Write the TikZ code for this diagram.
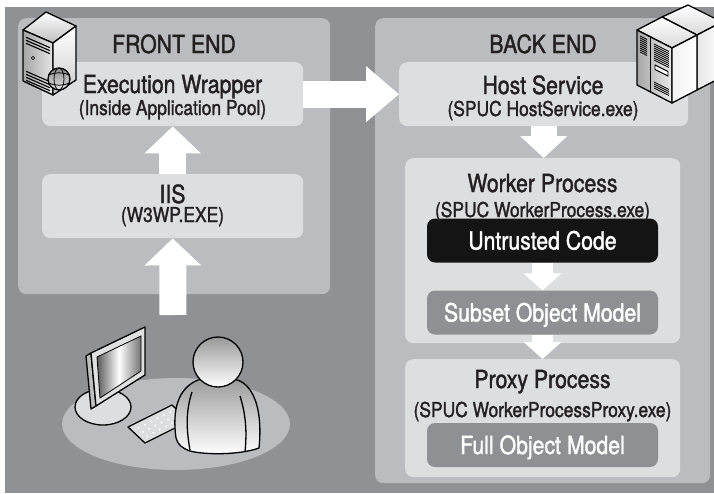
\documentclass[tikz,border=0pt]{standalone}
\usepackage{fontspec}
\setmainfont[FakeStretch=0.85, FakeBold=1.4]{TeX Gyre Heros}
\usetikzlibrary{arrows.meta, shapes, positioning}

\definecolor{bggray}{HTML}{909195}
\definecolor{panelgray}{HTML}{BBBCBF}
\definecolor{boxgray}{HTML}{DDDEDF}
\definecolor{modelgray}{HTML}{8F9093}
\definecolor{inkblack}{HTML}{231F20}

\begin{document}
\begin{tikzpicture}[x=1pt, y=-1pt,
    % Define the style of the two large panels
    panel/.style={fill=panelgray, rounded corners=8pt, anchor=north west, inner sep=0pt},
    % Define the style of the light process boxes
    procbox/.style={fill=boxgray, rounded corners=8pt, anchor=north west, inner sep=0pt},
    % Define the style of the small object model boxes
    modelbox/.style={fill=modelgray, text=white, rounded corners=8pt, minimum width=231pt,
      minimum height=44pt, inner sep=0pt, text height=18pt, text depth=0pt,
      font=\fontsize{25}{25}\selectfont},
    % Define the style of the box titles
    title/.style={anchor=base, text=inkblack, inner sep=0pt, font=\fontsize{25}{25}\selectfont},
    % Define the style of the executable names
    subtitle/.style={anchor=base, text=inkblack, inner sep=0pt, font=\fontsize{20.5}{20.5}\selectfont},
    % Define the style of the white block arrows
    bigarrow/.style={draw=white, line width=27pt, -{Triangle[width=55pt, length=27pt]}},
    sidearrow/.style={draw=white, line width=27pt, -{Triangle[width=54pt, length=33pt]}},
    midarrow/.style={draw=white, line width=26pt, -{Triangle[width=46pt, length=22pt]}},
    smallarrow/.style={draw=white, line width=21pt, -{Triangle[width=37pt, length=17pt]}},
    % Define the style of the icon outlines
    icon/.style={draw=black, line width=1.3pt, line join=round}
  ]
  \useasboundingbox (0,0) rectangle (714,493);
  \fill[bggray] (5,7) rectangle (714,493);

  % Panels
  \node[panel, minimum width=312pt, minimum height=276pt] (front) at (18,18) {};
  \node[panel, minimum width=335pt, minimum height=465pt] (back) at (375,18) {};

  % Process boxes
  \node[procbox, minimum width=261pt, minimum height=64pt] (ew) at (42,62) {};
  \node[procbox, minimum width=261pt, minimum height=64pt] (iis) at (42,174) {};
  \node[procbox, minimum width=289pt, minimum height=64pt] (host) at (399,62) {};
  \node[procbox, minimum width=275pt, minimum height=185pt] (worker) at (405,158) {};
  \node[procbox, minimum width=275pt, minimum height=118pt] (proxy) at (405,359) {};

  % Object model boxes
  \node[modelbox, fill=black!92] (untrusted) at (542.5,240.5) {Untrusted Code};
  \node[modelbox] (subset) at (542.5,312.5) {Subset Object Model};
  \node[modelbox] (full) at (542.5,445) {Full Object Model};

  % Labels
  \node[title] (frontlabel) at (174,53) {FRONT END};
  \node[title] (backlabel) at (543,53) {BACK END};
  \node[title] (ewtitle) at (172.5,93) {Execution Wrapper};
  \node[subtitle] (ewsub) at (172.5,115) {(Inside Application Pool)};
  \node[title] (iistitle) at (172.5,203) {IIS};
  \node[subtitle] (iissub) at (172.5,222) {(W3WP.EXE)};
  \node[title] (hosttitle) at (543,94) {Host Service};
  \node[subtitle] (hostsub) at (543,116) {(SPUC HostService.exe)};
  \node[title] (workertitle) at (542.5,192) {Worker Process};
  \node[subtitle] (workersub) at (542.5,217) {(SPUC WorkerProcess.exe)};
  \node[title] (proxytitle) at (542.5,388) {Proxy Process};
  \node[subtitle] (proxysub) at (542.5,417) {(SPUC WorkerProcessProxy.exe)};

  % Web server tower
  \draw[icon, top color=white, bottom color=black!25] (23,30) -- (46,12) -- (76,26) -- (53,43) -- cycle;
  \draw[icon, left color=black!35, right color=black!10] (23,30) -- (53,43) -- (53,95) -- (23,81) -- cycle;
  \draw[icon, top color=white, bottom color=black!20] (53,43) -- (76,26) -- (76,80) -- (53,95) -- cycle;
  \foreach \k in {6,9,12,40,43,46,49} {
    \draw[line width=1.1pt] (26,{31.3+\k}) -- (50,{41.7+\k});
  }
  \draw[line width=0.8pt, fill=white] (33,58) circle (1.6);
  % Globe
  \draw[icon, top color=black!45, bottom color=black!10] (59,79) circle (11);
  \draw[line width=0.8pt] (59,79) ellipse [x radius=5, y radius=11];
  \draw[line width=0.8pt] (48.5,75) .. controls (55,72) and (63,72) .. (69.5,75);
  \draw[line width=0.8pt] (48.5,83) .. controls (55,86) and (63,86) .. (69.5,83);

  % Back end server pair
  \draw[icon, top color=white, bottom color=black!15] (662,17) -- (688,5) -- (722,22) -- (697,35) -- cycle;
  \draw[icon, left color=black!10, right color=white] (697,35) -- (722,22) -- (722,77) -- (697,90) -- cycle;
  \draw[icon, top color=white, bottom color=black!15] (637,30) -- (662,17) -- (697,35) -- (672,48) -- cycle;
  \draw[icon, left color=black!35, right color=black!8] (637,30) -- (672,48) -- (672,103) -- (637,85) -- cycle;
  \draw[icon, left color=black!5, right color=white] (672,48) -- (697,35) -- (697,90) -- (672,103) -- cycle;
  \draw[line width=1pt] (650,37) -- (650,92);
  \foreach \k in {0,2,...,16} {
    \draw[line width=0.7pt] (640,{36+\k}) -- (647,{39.5+\k});
    \draw[line width=0.7pt] (654,{44+\k}) -- (669,{51.5+\k});
  }
  \draw[line width=0.9pt, fill=white] (655,65) -- (668,71.5) -- (668,76) -- (655,69.5) -- cycle;
  \foreach \k in {0,2,...,6} {
    \draw[line width=0.7pt] (654,{82+\k}) -- (669,{89.5+\k});
  }

  % Desk with monitor and keyboard
  \fill[panelgray] (176,424) ellipse [x radius=114, y radius=46];
  \draw[icon, fill=boxgray] (103,407) ellipse [x radius=28, y radius=18];
  \draw[icon, fill=black!25] (86,356) -- (91,353) -- (96,406) -- (91,409) -- cycle;
  \draw[icon, fill=black!12] (91,353) -- (145,327) -- (145,375) -- (96,406) -- cycle;
  \shade[left color=black!65, right color=black!55, middle color=white, draw=black, line width=0.8pt]
    (97,357) -- (141,336) -- (141,371) -- (100,398) -- cycle;
  \draw[icon, fill=boxgray] (128,427) -- (172,405) -- (189,421) -- (145,443) -- cycle;
  \foreach \i in {1,...,6} {
    \foreach \j in {1,...,3} {
      \fill[white] ({128+\i*44/7+\j*17/4},{427-\i*22/7+\j*16/4}) circle (1.1);
    }
  }

  % User
  \draw[icon, top color=black!40, bottom color=white]
    (176,438) .. controls (172,410) and (178,388) .. (198,380)
    .. controls (210,376) and (228,376) .. (240,381)
    .. controls (258,390) and (262,420) .. (259,448)
    .. controls (240,455) and (205,455) .. (190,451)
    .. controls (182,448) and (178,445) .. (176,438) -- cycle;
  \draw[icon] (192,392) .. controls (186,410) and (186,428) .. (190,450);
  \draw[icon] (240,396) .. controls (246,415) and (247,432) .. (245,452);
  \draw[icon, top color=black!40, bottom color=white] (218,362) circle (25);
  \coordinate (user) at (173,315);

  % Arrows
  \draw[bigarrow] (user) -- (iis.south);
  \draw[bigarrow] (iis.north) -- (ew.south);
  \draw[sidearrow] (ew.east) -- (host.west);
  \draw[midarrow] (host.south) -- (host.south |- worker.north);
  \draw[smallarrow] (untrusted.south) -- (untrusted.south |- subset.north);
  \draw[smallarrow] (subset.south) -- (subset.south |- proxy.north);
\end{tikzpicture}
\end{document}
